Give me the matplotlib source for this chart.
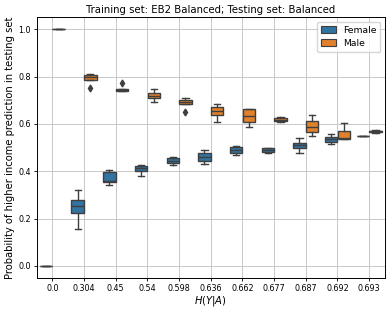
import matplotlib
matplotlib.use("Agg")
import matplotlib.pyplot as plt
from matplotlib.patches import Patch

categories = ["0.0", "0.304", "0.45", "0.54", "0.598", "0.636", "0.662", "0.677", "0.687", "0.692", "0.693"]

female = [
    [0.0, 0.0, 0.0, 0.0, 0.0],
    [0.157, 0.225, 0.253, 0.277, 0.322],
    [0.341, 0.356, 0.360, 0.397, 0.404],
    [0.380, 0.400, 0.413, 0.423, 0.428],
    [0.426, 0.434, 0.444, 0.455, 0.462],
    [0.431, 0.445, 0.461, 0.478, 0.490],
    [0.469, 0.475, 0.489, 0.502, 0.507],
    [0.477, 0.481, 0.489, 0.497, 0.500],
    [0.479, 0.500, 0.510, 0.520, 0.540],
    [0.516, 0.524, 0.536, 0.544, 0.556],
    [0.547, 0.548, 0.549, 0.550, 0.551],
]
male = [
    [1.0, 1.0, 1.0, 1.0, 1.0],
    [0.751, 0.786, 0.797, 0.807, 0.811],
    [0.737, 0.740, 0.745, 0.749, 0.773],
    [0.692, 0.708, 0.717, 0.731, 0.747],
    [0.649, 0.686, 0.694, 0.701, 0.709],
    [0.607, 0.639, 0.655, 0.670, 0.684],
    [0.585, 0.608, 0.635, 0.662, 0.664],
    [0.607, 0.612, 0.618, 0.626, 0.630],
    [0.547, 0.564, 0.588, 0.614, 0.638],
    [0.535, 0.535, 0.540, 0.570, 0.602],
    [0.563, 0.565, 0.568, 0.571, 0.573],
]
series_names = ["Female", "Male"]
colors = ["#3274a1", "#e1812c"]
edge = "#3f3f3f"

fig = plt.figure(figsize=(3.91, 3.11), dpi=100)
ax = fig.add_axes([0.0934, 0.107, 0.8913, 0.837])
ax.grid(True, color="#c8c8c8", linewidth=0.7)
ax.set_axisbelow(True)

n = len(categories)
for k, (data, col) in enumerate(zip([female, male], colors)):
    offset = -0.2 if k == 0 else 0.2
    pos = [i + offset for i in range(n)]
    ax.boxplot(data, positions=pos, widths=0.392, patch_artist=True,
               manage_ticks=False,
               boxprops=dict(facecolor=col, edgecolor=edge, linewidth=1.0),
               medianprops=dict(color=edge, linewidth=1.0),
               whiskerprops=dict(color=edge, linewidth=1.0),
               capprops=dict(color=edge, linewidth=1.0),
               flierprops=dict(marker="d", markerfacecolor=edge, markeredgecolor=edge, markersize=3.5))

ax.set_xlim(-0.5, n - 0.5)
ax.set_ylim(-0.05, 1.05)
ax.set_xticks(range(n))
ax.set_xticklabels(categories)
ax.set_yticks([0.0, 0.2, 0.4, 0.6, 0.8, 1.0])
ax.tick_params(labelsize=5.8, width=0.6, length=2.4, pad=1.8)
for s in ax.spines.values():
    s.set_linewidth(0.7)
ax.set_xlabel("$H(Y|A)$", fontsize=7.2, labelpad=1.0)
ax.set_ylabel("Probability of higher income prediction in testing set", fontsize=7.2, labelpad=2.5)
ax.set_title("Training set: EB2 Balanced; Testing set: Balanced", fontsize=7.3, pad=3)

handles = [Patch(facecolor=c, edgecolor=edge, linewidth=0.8, label=l) for c, l in zip(colors, series_names)]
ax.legend(handles=handles, loc="upper right", fontsize=6.7, framealpha=0.8, borderpad=0.4,
          labelspacing=0.45, handlelength=1.6, handleheight=0.8)

fig.savefig("out.png", dpi=100)
